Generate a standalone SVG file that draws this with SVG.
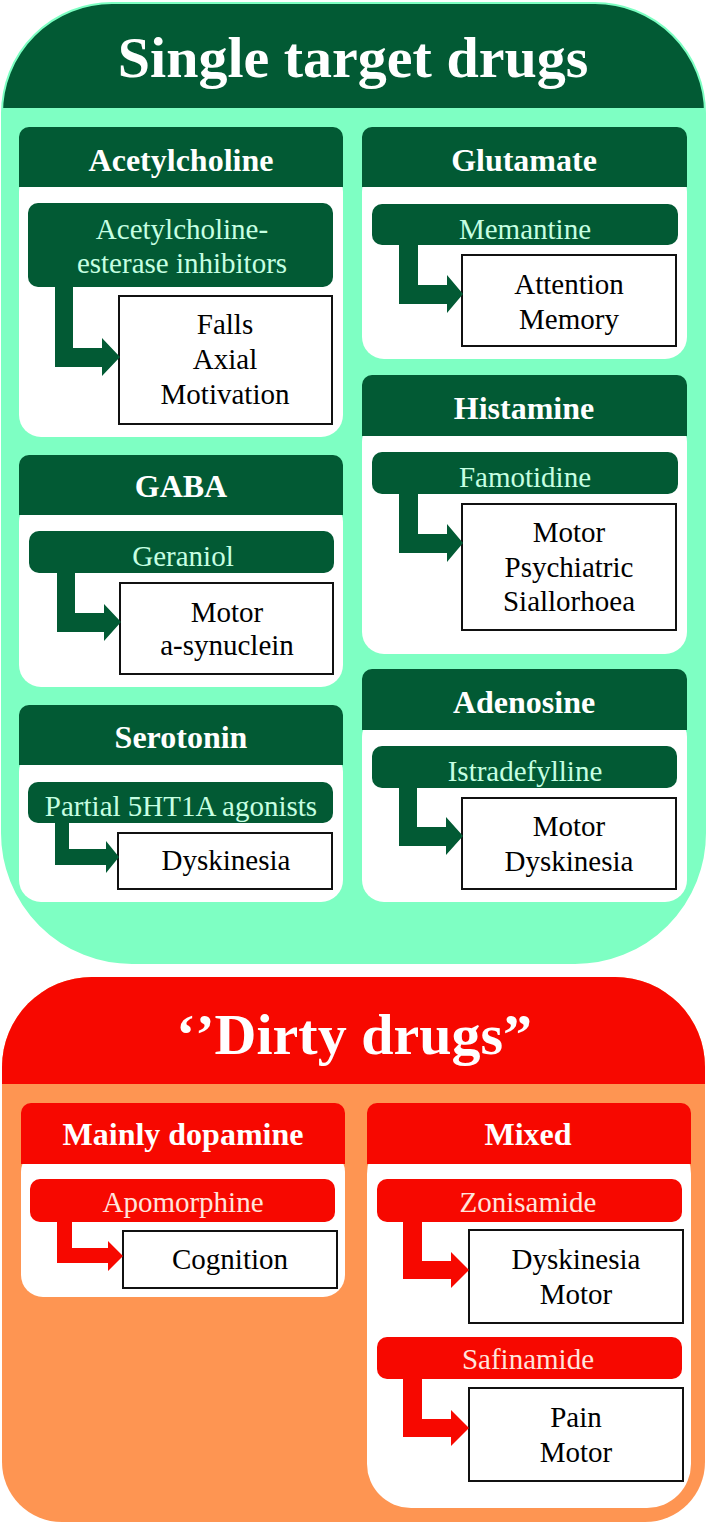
<svg xmlns="http://www.w3.org/2000/svg" width="707" height="1525" viewBox="0 0 707 1525">
<defs>
<style>
text{font-family:"Liberation Serif","Times New Roman",serif;text-anchor:middle}
.title{font-size:58px;font-weight:bold;fill:#ffffff}
.head{font-size:32px;font-weight:bold;fill:#ffffff}
.gdrug{font-size:29px;fill:#c6ffe2}
.rdrug{font-size:29px;fill:#ffe4dc}
.out{font-size:29px;fill:#000000}
.gh{fill:#025a34}
.rh{fill:#f70800}
.body{fill:#ffffff}
.obox{fill:#ffffff;stroke:#111111;stroke-width:2}
.garrow{fill:#025a34}
.rarrow{fill:#f70800}
</style>
<clipPath id="topClip"><path d="M2,113 A110,110 0 0 1 112,3 H595 A110,110 0 0 1 705,113 V833 A130,130 0 0 1 575,963 H132 A130,130 0 0 1 2,833 Z"/></clipPath>
<clipPath id="botClip"><path d="M2,1067 A90,90 0 0 1 92,977 H615 A90,90 0 0 1 705,1067 V1462 A60,60 0 0 1 645,1522 H62 A60,60 0 0 1 2,1462 Z"/></clipPath>
</defs>
<rect width="707" height="1525" fill="#ffffff"/>

<g id="single-target">
<path d="M2,113 A110,110 0 0 1 112,3 H595 A110,110 0 0 1 705,113 V833 A130,130 0 0 1 575,963 H132 A130,130 0 0 1 2,833 Z" fill="#7effc3"/>
<rect x="0" y="0" width="707" height="108" class="gh" clip-path="url(#topClip)"/>
<path d="M2,113 A110,110 0 0 1 112,3 H595 A110,110 0 0 1 705,113 V833 A130,130 0 0 1 575,963 H132 A130,130 0 0 1 2,833 Z" fill="none" stroke="#7effc3" stroke-width="2"/>
<text class="title" x="353" y="77">Single target drugs</text>
</g>

<g id="dirty-drugs">
<path d="M2,1067 A90,90 0 0 1 92,977 H615 A90,90 0 0 1 705,1067 V1462 A60,60 0 0 1 645,1522 H62 A60,60 0 0 1 2,1462 Z" fill="#fe9552"/>
<rect x="0" y="970" width="707" height="114" class="rh" clip-path="url(#botClip)"/>
<text class="title" x="354" y="1054">‘’Dirty drugs”</text>
</g>

<!-- Acetylcholine -->
<g id="acetylcholine">
<rect x="19" y="170" width="324" height="267" rx="22" class="body"/>
<path d="M19,187 V137 A10,10 0 0 1 29,127 H333 A10,10 0 0 1 343,137 V187 Z" class="gh"/>
<text class="head" x="181" y="171">Acetylcholine</text>
</g>
<g id="ache-inhibitors">
<rect x="28" y="203" width="305" height="84" rx="10" class="gh"/>
<text class="gdrug" x="182" y="239">Acetylcholine-</text>
<text class="gdrug" x="182" y="273">esterase inhibitors</text>
</g>
<g id="ache-outcomes">
<rect x="119" y="296" width="213" height="128" class="obox"/>
<text class="out" x="225" y="334">Falls</text>
<text class="out" x="225" y="369">Axial</text>
<text class="out" x="225" y="404">Motivation</text>
</g>

<!-- GABA -->
<g id="gaba">
<rect x="19" y="500" width="324" height="187" rx="22" class="body"/>
<path d="M19,515 V465 A10,10 0 0 1 29,455 H333 A10,10 0 0 1 343,465 V515 Z" class="gh"/>
<text class="head" x="181" y="497">GABA</text>
</g>
<g id="geraniol">
<rect x="29" y="531" width="305" height="42" rx="10" class="gh"/>
<text class="gdrug" x="183" y="566">Geraniol</text>
</g>
<g id="geraniol-outcomes">
<rect x="120" y="583" width="213" height="91" class="obox"/>
<text class="out" x="227" y="622">Motor</text>
<text class="out" x="227" y="655">a-synuclein</text>
</g>

<!-- Serotonin -->
<g id="serotonin">
<rect x="19" y="750" width="324" height="152" rx="22" class="body"/>
<path d="M19,765 V715 A10,10 0 0 1 29,705 H333 A10,10 0 0 1 343,715 V765 Z" class="gh"/>
<text class="head" x="181" y="748">Serotonin</text>
</g>
<g id="partial-5ht1a">
<rect x="28" y="782" width="305" height="41" rx="10" class="gh"/>
<text class="gdrug" x="181" y="816">Partial 5HT1A agonists</text>
</g>
<g id="serotonin-outcomes">
<rect x="118" y="833" width="214" height="56" class="obox"/>
<text class="out" x="226" y="870">Dyskinesia</text>
</g>

<!-- Glutamate -->
<g id="glutamate">
<rect x="362" y="170" width="325" height="189" rx="22" class="body"/>
<path d="M362,187 V137 A10,10 0 0 1 372,127 H677 A10,10 0 0 1 687,137 V187 Z" class="gh"/>
<text class="head" x="524" y="171">Glutamate</text>
</g>
<g id="memantine">
<rect x="372" y="204" width="306" height="41" rx="10" class="gh"/>
<text class="gdrug" x="525" y="239">Memantine</text>
</g>
<g id="memantine-outcomes">
<rect x="462" y="255" width="214" height="91" class="obox"/>
<text class="out" x="569" y="294">Attention</text>
<text class="out" x="569" y="329">Memory</text>
</g>

<!-- Histamine -->
<g id="histamine">
<rect x="362" y="420" width="325" height="234" rx="22" class="body"/>
<path d="M362,436 V385 A10,10 0 0 1 372,375 H677 A10,10 0 0 1 687,385 V436 Z" class="gh"/>
<text class="head" x="524" y="419">Histamine</text>
</g>
<g id="famotidine">
<rect x="372" y="452" width="306" height="42" rx="10" class="gh"/>
<text class="gdrug" x="525" y="487">Famotidine</text>
</g>
<g id="famotidine-outcomes">
<rect x="462" y="504" width="214" height="126" class="obox"/>
<text class="out" x="569" y="542">Motor</text>
<text class="out" x="569" y="577">Psychiatric</text>
<text class="out" x="569" y="611">Siallorhoea</text>
</g>

<!-- Adenosine -->
<g id="adenosine">
<rect x="362" y="715" width="325" height="187" rx="22" class="body"/>
<path d="M362,730 V679 A10,10 0 0 1 372,669 H677 A10,10 0 0 1 687,679 V730 Z" class="gh"/>
<text class="head" x="524" y="713">Adenosine</text>
</g>
<g id="istradefylline">
<rect x="372" y="746" width="305" height="42" rx="10" class="gh"/>
<text class="gdrug" x="525" y="781">Istradefylline</text>
</g>
<g id="istradefylline-outcomes">
<rect x="462" y="798" width="214" height="91" class="obox"/>
<text class="out" x="569" y="836">Motor</text>
<text class="out" x="569" y="871">Dyskinesia</text>
</g>

<!-- Mainly dopamine -->
<g id="mainly-dopamine">
<rect x="21" y="1150" width="324" height="147" rx="22" class="body"/>
<path d="M21,1164 V1113 A10,10 0 0 1 31,1103 H335 A10,10 0 0 1 345,1113 V1164 Z" class="rh"/>
<text class="head" x="183" y="1145">Mainly dopamine</text>
</g>
<g id="apomorphine">
<rect x="30" y="1179" width="305" height="43" rx="10" class="rh"/>
<text class="rdrug" x="183" y="1212">Apomorphine</text>
</g>
<g id="apomorphine-outcomes">
<rect x="123" y="1231" width="214" height="57" class="obox"/>
<text class="out" x="230" y="1269">Cognition</text>
</g>

<!-- Mixed -->
<g id="mixed">
<rect x="367" y="1130" width="324" height="378" rx="44" class="body"/>
<path d="M367,1164 V1113 A10,10 0 0 1 377,1103 H681 A10,10 0 0 1 691,1113 V1164 Z" class="rh"/>
<text class="head" x="528" y="1145">Mixed</text>
</g>
<g id="zonisamide">
<rect x="377" y="1179" width="305" height="43" rx="10" class="rh"/>
<text class="rdrug" x="528" y="1212">Zonisamide</text>
</g>
<g id="zonisamide-outcomes">
<rect x="469" y="1230" width="214" height="93" class="obox"/>
<text class="out" x="576" y="1269">Dyskinesia</text>
<text class="out" x="576" y="1304">Motor</text>
</g>
<g id="safinamide">
<rect x="377" y="1337" width="305" height="42" rx="10" class="rh"/>
<text class="rdrug" x="528" y="1369">Safinamide</text>
</g>
<g id="safinamide-outcomes">
<rect x="469" y="1388" width="214" height="93" class="obox"/>
<text class="out" x="576" y="1427">Pain</text>
<text class="out" x="576" y="1462">Motor</text>
</g>

<g id="connectors">
<path class="garrow" d="M55,286 H73 V348 H102 V338 L120,357 L102,376 V367 H55 Z"/>
<path class="garrow" d="M57,572 H75 V613 H104 V604 L121,622 L104,641 V632 H57 Z"/>
<path class="garrow" d="M55,822 H69 V849 H106 V841 L119,857 L106,873 V865 H55 Z"/>
<path class="garrow" d="M399,244 H418 V285 H447 V275 L463,294 L447,313 V304 H399 Z"/>
<path class="garrow" d="M399,493 H418 V534 H447 V524 L463,543 L447,562 V553 H399 Z"/>
<path class="garrow" d="M399,787 H417 V827 H446 V817 L463,836 L446,855 V846 H399 Z"/>
<path class="rarrow" d="M57,1221 H72 V1248 H108 V1241 L123,1256 L108,1271 V1263 H57 Z"/>
<path class="rarrow" d="M403,1221 H422 V1261 H451 V1252 L469,1270 L451,1288 V1279 H403 Z"/>
<path class="rarrow" d="M403,1378 H422 V1419 H451 V1410 L469,1428 L451,1446 V1437 H403 Z"/>
</g>
</svg>
